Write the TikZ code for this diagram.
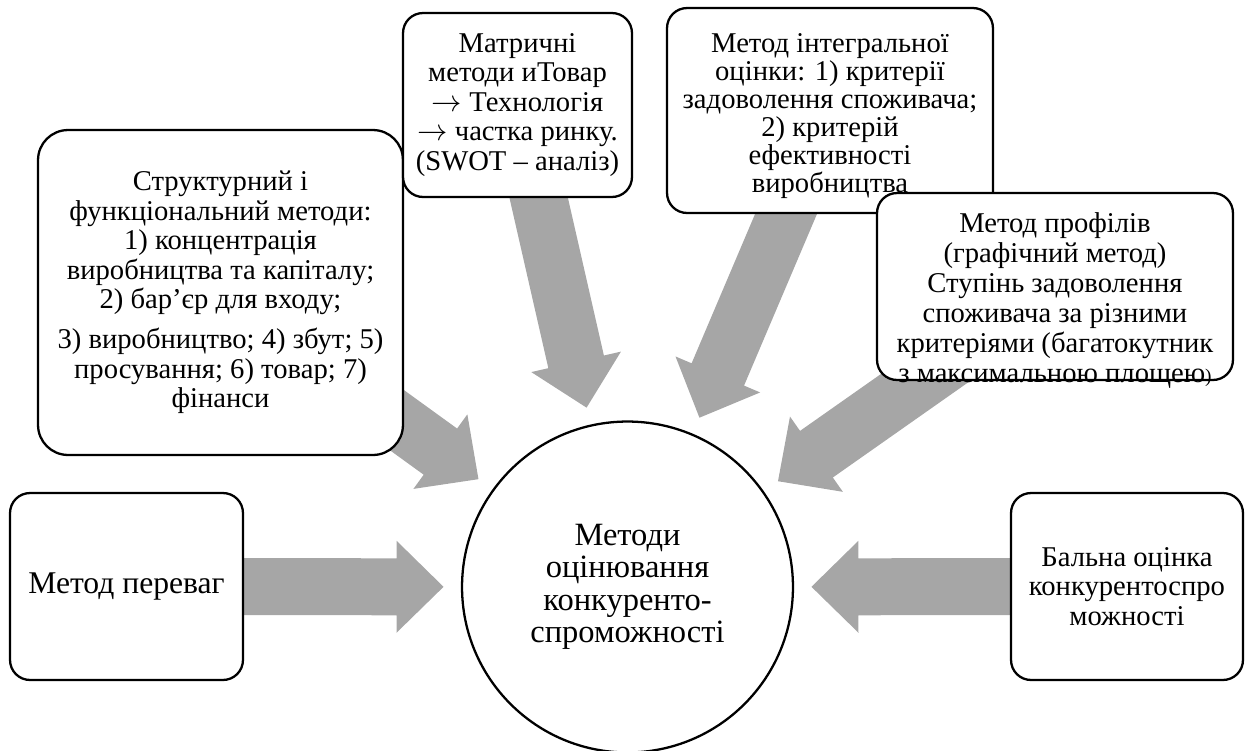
\documentclass[tikz,border=0pt]{standalone}
\usepackage{fontspec}
\setmainfont{Liberation Serif}
\usepackage{tikz}
\usetikzlibrary{calc, positioning, backgrounds}
\definecolor{arrowgray}{RGB}{166,166,166}
\tikzset{
    method/.style={rectangle, rounded corners=0.4cm, draw=black, line width=1.3pt, fill=white, align=center, inner sep=0pt, font=\fontsize{16.3}{16.8}\selectfont},
    hub/.style={circle, draw=black, line width=1.3pt, fill=white, align=center, minimum size=6.62cm, inner sep=0pt, font=\fontsize{18.5}{18.5}\selectfont},
    fatarrow/.style={fill=arrowgray, draw=none, to path={
        ($(\tikztotarget)!3.68cm!(\tikztostart)$) coordinate (tip)
        ($(tip)!0.94cm!(\tikztostart)$) coordinate (neck)
        ($(\tikztostart)!0.57cm!90:(tip)$) -- ($(neck)!0.57cm!90:(tip)$)
        -- ($(neck)!0.92cm!90:(tip)$) -- (tip)
        -- ($(neck)!0.92cm!-90:(tip)$) -- ($(neck)!0.57cm!-90:(tip)$)
        -- ($(\tikztostart)!0.57cm!-90:(tip)$) -- cycle}}
}
\begin{document}
\begin{tikzpicture}[x=0.02cm, y=-0.02cm]
    \useasboundingbox (0,0) rectangle (1249,751);
    % Centre
    \node[hub] (circ) at (627.5,587) {Методи\\ оцінювання\\ конкуренто-\\ спроможності};

    % Methods round it
    \node[method, minimum width=7.3cm, minimum height=6.5cm, rounded corners=0.6cm] (sbox) at (220.5,292.5)
        {Структурний і\\ функціональний методи:\\ 1) концентрація\\ виробництва та капіталу;\\ 2) бар’єр для входу;\\[6pt] 3) виробництво; 4) збут; 5)\\ просування; 6) товар; 7)\\ фінанси};
    \node[method, minimum width=4.58cm, minimum height=3.68cm] (mbox) at (517.5,105)
        {Матричні\\ методи иТовар\\ $\rightarrow$ Технологія\\ $\rightarrow$ частка ринку.\\ (SWOT – аналіз)};
    \node[method, minimum width=6.52cm, minimum height=4.1cm, inner ysep=-4pt, font=\fontsize{16.3}{16}\selectfont] (ibox) at (830,110.5)
        {\rule{0pt}{17pt}Метод інтегральної\\ оцінки: 1) критерії\\ задоволення споживача;\\ 2) критерій\\ ефективності\\ виробництва};
    \node[method, minimum width=7.12cm, minimum height=3.74cm, inner ysep=-8pt, text depth=0pt, font=\fontsize{16.3}{17}\selectfont] (pbox) at (1055,286.5)
        {\rule{0pt}{24pt}Метод профілів\\ (графічний метод)\\ Ступінь задоволення\\ споживача за різними\\ критеріями (багатокутник\\ з максимальною площею{\fontsize{11}{11}\selectfont)}};
    \node[method, minimum width=4.66cm, minimum height=3.74cm, font=\fontsize{18}{18}\selectfont] (abox) at (126.5,586.5) {Метод переваг};
    \node[method, minimum width=4.64cm, minimum height=3.74cm] (bbox) at (1127,586.5)
        {Бальна оцінка\\ конкурентоспро\\ можності};

    % Arrows into the centre
    \begin{scope}[on background layer]
        \foreach \src in {abox, sbox, mbox, ibox, pbox, bbox}
            \fill[fatarrow] (\src) to (circ);
    \end{scope}
\end{tikzpicture}
\end{document}
